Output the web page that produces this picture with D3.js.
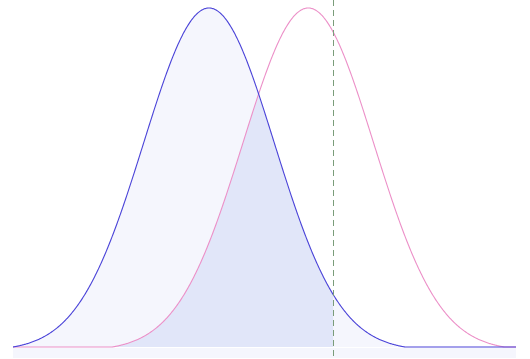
<!DOCTYPE html>
<html><head><meta charset="utf-8">
<script src="https://cdn.jsdelivr.net/npm/d3@7"></script>
<style>html,body{margin:0;padding:0;background:#fff;}svg{display:block;}</style>
</head><body>
<script>
const seriesNames = ["null", "alternative"];
const seriesMeans = [0, 1.52];
const seriesSds = [1, 1];
const seriesColors = ["#4a43d8", "#ec90c8"];
const xDomain = [-3, 4.7];
const criticalValue = [1.9];
const tailCut = [3];

const W = 530, H = 359;
const svg = d3.select("body").append("svg").attr("width", W).attr("height", H);
const pdf = (v, m, s) => Math.exp(-0.5 * ((v - m) / s) ** 2) / (s * Math.sqrt(2 * Math.PI));
const floorV = pdf(tailCut[0], 0, 1);
const x = d3.scaleLinear().domain(xDomain).range([13, 516]);
const y = d3.scaleLinear().domain([floorV, 1 / Math.sqrt(2 * Math.PI)]).range([347, 8]).clamp(true);
const xs = d3.range(xDomain[0], xDomain[1] + 1e-9, 0.01);
const val = (v, i) => Math.max(floorV, pdf(v, seriesMeans[i], seriesSds[i]));

// bottom strip
svg.append("rect").attr("x", x(xDomain[0])).attr("y", 348).attr("width", x(xDomain[1]) - x(xDomain[0])).attr("height", 10).attr("fill", "#f5f6fd");

const area = d3.area().x(d => x(d[0])).y0(y(floorV)).y1(d => y(d[1]));
svg.append("path").datum(xs.map(v => [v, val(v, 0)]))
  .attr("d", area).attr("fill", "#f5f6fd");
const xo = xs.filter(v => v <= criticalValue[0]).concat([criticalValue[0]]);
svg.append("path").datum(xo.map(v => [v, Math.min(val(v, 0), val(v, 1))]))
  .attr("d", area).attr("fill", "#e1e6f9");

const line = d3.line().x(d => x(d[0])).y(d => y(d[1]));
[1, 0].forEach(i => {
  svg.append("path").datum(xs.map(v => [v, val(v, i)]))
    .attr("d", line).attr("fill", "none").attr("stroke", seriesColors[i]).attr("stroke-width", 1.1);
});

svg.append("line").attr("x1", Math.round(x(criticalValue[0])) + 0.5).attr("x2", Math.round(x(criticalValue[0])) + 0.5)
  .attr("y1", 0).attr("y2", 358).attr("stroke", "#7a9c7a").attr("stroke-width", 1).attr("stroke-dasharray", "6,4");
</script>
</body></html>
